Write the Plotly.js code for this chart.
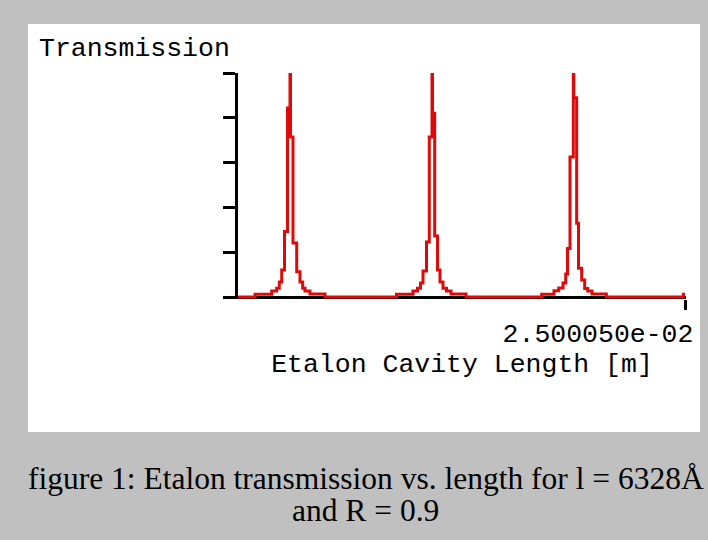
<!DOCTYPE html>
<html>
<head>
<meta charset="utf-8">
<script src="https://cdn.plot.ly/plotly-3.0.1.min.js"></script>
<style>
html,body{margin:0;padding:0;background:#c0c0c0;}
#chart{width:708px;height:540px;}
</style>
</head>
<body>
<div id="chart"></div>
<script>
// Etalon cavity length, as nm offset from 25 mm (step samples, drawn 'hv')
const peak1Length = [-500, -459.8, -422.5, -411.4, -405.6, -400.2, -394.0, -387.3, -381.7, -380.6, -375.0, -366.7, -359.4, -353.4, -348.2, -337.1, -303.6];
const peak1Trans  = [0, 0.012, 0.027, 0.039, 0.067, 0.121, 0.292, 0.844, 1.0, 0.714, 0.241, 0.113, 0.067, 0.039, 0.027, 0.013, 0];

const peak2Length = [-144.0, -107.2, -97.1, -90.4, -84.8, -77.0, -70.8, -64.7, -63.6, -58.7, -52.5, -46.9, -40.2, -32.4, -22.3, 11.2];
const peak2Trans  = [0.012, 0.027, 0.039, 0.063, 0.116, 0.246, 0.714, 1.0, 0.82, 0.272, 0.121, 0.067, 0.039, 0.027, 0.013, 0];

const peak3Length = [180.1, 207.6, 218.1, 227.7, 233.7, 237.7, 243.3, 250.7, 251.8, 258.2, 262.3, 269.4, 276.1, 282.8, 292.4, 324.3, 496.2, 500];
const peak3Trans  = [0.012, 0.028, 0.040, 0.063, 0.103, 0.217, 0.625, 1.0, 0.89, 0.329, 0.128, 0.076, 0.038, 0.027, 0.013, 0, 0.012, 0.012];

const xTickVals = [500];
const xTickText = ['2.500050e-02'];
const yTickVals = [0, 0.2, 0.4, 0.6, 0.8, 1.0];

const lengthNm = peak1Length.concat(peak2Length, peak3Length);
const transmission = peak1Trans.concat(peak2Trans, peak3Trans);

// layout geometry (pixels)
const W = 708, H = 540;
const L = 238, R = 686, T = 73, B = 299;
const plotW = R - L, plotH = B - T;
const nmPerPx = 1000 / 448;           // x data: -500 at px 237, 500 at px 685
const xRange = [-500 + (L - 237) * nmPerPx, -500 + (R - 237) * nmPerPx];
const yRange = [-(B - 297) / 224, 1];
const px = x => (x - L) / plotW;
const py = y => (B - y) / plotH;

const mono = 'Liberation Mono, Courier New, monospace';
const serif = 'Liberation Serif, Times New Roman, serif';

const trace = {
  x: lengthNm,
  y: transmission,
  type: 'scatter',
  mode: 'lines',
  line: {shape: 'hv', color: 'rgb(222,10,10)', width: 3},
  hoverinfo: 'skip'
};

const layout = {
  width: W, height: H,
  margin: {l: L, r: W - R, t: T, b: H - B, pad: 0},
  paper_bgcolor: '#c0c0c0',
  plot_bgcolor: '#ffffff',
  showlegend: false,
  hovermode: false,
  font: {family: mono, size: 26.5, color: '#000'},
  xaxis: {
    range: xRange, fixedrange: true,
    showgrid: false, zeroline: false, showline: false,
    tickmode: 'array', tickvals: xTickVals, ticktext: xTickText,
    ticks: 'outside', ticklen: 10, tickwidth: 3, tickcolor: '#000',
    ticklabelshift: -87,
    tickfont: {family: mono, size: 26.5, color: '#000'},
    title: {text: 'Etalon Cavity Length [m]', font: {family: mono, size: 26.5, color: '#000'}, standoff: 2},
    layer: 'below traces'
  },
  yaxis: {
    range: yRange, fixedrange: true,
    showgrid: false,
    zeroline: true, zerolinecolor: '#000', zerolinewidth: 3,
    showline: true, linecolor: '#000', linewidth: 3,
    tickmode: 'array', tickvals: yTickVals,
    ticks: 'outside', ticklen: 12, tickwidth: 3, tickcolor: '#000',
    showticklabels: false,
    layer: 'below traces'
  },
  shapes: [{
    type: 'rect', xref: 'paper', yref: 'paper',
    x0: px(28), x1: px(700), y0: py(432), y1: py(24),
    fillcolor: '#ffffff', line: {width: 0}, layer: 'below'
  }],
  annotations: [
    {text: 'Transmission', xref: 'paper', yref: 'paper', x: px(37), y: py(49),
     xanchor: 'left', yanchor: 'middle', showarrow: false,
     font: {family: mono, size: 26.5, color: '#000'}},
    {text: 'figure 1: Etalon transmission vs. length for l = 6328Å', xref: 'paper', yref: 'paper',
     x: px(365.5), y: py(478), xanchor: 'center', yanchor: 'middle', showarrow: false,
     font: {family: serif, size: 31.5, color: '#000'}},
    {text: 'and R = 0.9', xref: 'paper', yref: 'paper',
     x: px(365), y: py(510), xanchor: 'center', yanchor: 'middle', showarrow: false,
     font: {family: serif, size: 31.5, color: '#000'}}
  ]
};

Plotly.newPlot('chart', [trace], layout, {staticPlot: true, displayModeBar: false});
</script>
</body>
</html>
